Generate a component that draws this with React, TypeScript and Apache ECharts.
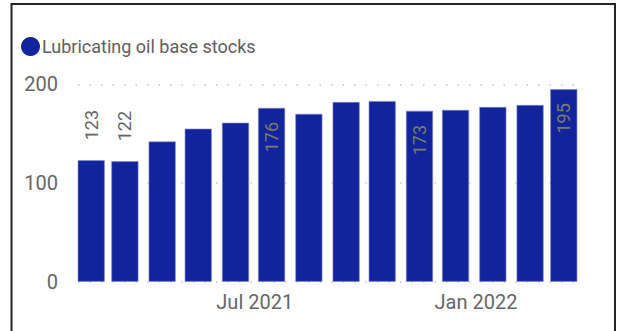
import React, { useEffect, useRef } from "react";
import * as echarts from "echarts";

const seriesName = "Lubricating oil base stocks";
const months = [
  "2021-02", "2021-03", "2021-04", "2021-05", "2021-06", "2021-07", "2021-08",
  "2021-09", "2021-10", "2021-11", "2021-12", "2022-01", "2022-02", "2022-03",
];
const values = [123, 122, 142, 155, 161, 176, 170, 182, 183, 173, 174, 177, 179, 195];
// "out" = label above bar, "in" = label inside bar top, "" = none
const labelModes = ["out", "out", "", "", "", "in", "", "", "", "in", "", "", "", "in"];
const xTickMonths = ["2021-07", "2022-01"];
const xTickLabels = ["Jul 2021", "Jan 2022"];
const yTicks = [0, 100, 200];

const FONT = "Roboto, 'Open Sans', sans-serif";
const DAY = 86400000;

function midMonth(s: string) {
  const [y, m] = s.split("-").map(Number);
  return Date.UTC(y, m - 1, 15);
}
function firstOfMonth(s: string) {
  const [y, m] = s.split("-").map(Number);
  return Date.UTC(y, m - 1, 1);
}

export default function App() {
  const ref = useRef<HTMLDivElement>(null);
  useEffect(() => {
    if (!ref.current) return;
    const chart = echarts.init(ref.current, null, { renderer: "svg" });
    const times = months.map(midMonth);
    const tickTimes = xTickMonths.map(firstOfMonth);
    const data = values.map((v, i) => {
      const mode = labelModes[i];
      const item: any = { value: [times[i], v] };
      if (mode === "out") {
        item.label = {
          show: true,
          position: "top",
          rotate: 90,
          align: "left",
          verticalAlign: "middle",
          distance: 18,
          offset: [2, 0],
          color: "#666666",
          fontSize: 18,
          fontFamily: FONT,
        };
      } else if (mode === "in") {
        item.label = {
          show: true,
          position: "insideTop",
          rotate: 90,
          align: "right",
          verticalAlign: "middle",
          distance: 16,
          offset: [2, 0],
          color: "#7d7c66",
          fontSize: 18,
          fontFamily: FONT,
        };
      }
      return item;
    });
    chart.setOption({
      animation: false,
      backgroundColor: "#ffffff",
      graphic: [
        {
          type: "rect",
          shape: { x: 11.5, y: 4, width: 603.5, height: 340 },
          style: { fill: "none", stroke: "#252423", lineWidth: 2 },
          silent: true,
        },
      ],
      legend: {
        show: true,
        left: 16,
        top: 32,
        icon: "circle",
        itemWidth: 19,
        itemHeight: 19,
        itemGap: 2,
        itemStyle: { borderWidth: 0, color: "#12239e" },
        textStyle: { color: "#605e5c", fontSize: 18, fontFamily: FONT, padding: [0, 0, 0, -3] },
        data: [seriesName],
      },
      grid: { left: 78, right: 41, top: 84.3, bottom: 49.3, containLabel: false },
      xAxis: {
        type: "value",
        min: times[0] - 11 * DAY,
        max: times[times.length - 1] + 11 * DAY,
        axisLine: { show: false },
        axisTick: { show: false },
        splitLine: { show: false },
        axisLabel: {
          customValues: tickTimes,
          formatter: (v: number) => {
            const idx = tickTimes.indexOf(v);
            return idx >= 0 ? xTickLabels[idx] : "";
          },
          color: "#666666",
          fontSize: 20,
          fontFamily: FONT,
          margin: 10,
          showMinLabel: true,
          showMaxLabel: true,
        },
      },
      yAxis: {
        type: "value",
        min: yTicks[0],
        max: yTicks[yTicks.length - 1],
        interval: yTicks[1] - yTicks[0],
        axisLine: { show: false },
        axisTick: { show: false },
        axisLabel: {
          color: "#666666",
          fontSize: 20,
          fontFamily: FONT,
          margin: 20,
        },
        splitLine: {
          show: true,
          lineStyle: { color: "#c8c8c8", width: 1.5, type: [1.5, 10] },
        },
      },
      series: [
        {
          name: seriesName,
          type: "bar",
          barWidth: 27,
          itemStyle: { color: "#12239e", borderColor: "#8088c8", borderWidth: 0.6 },
          data,
        },
      ],
    });
    return () => chart.dispose();
  }, []);
  return (
    <div
      ref={ref}
      style={{ position: "absolute", left: 0, top: 0, width: 618, height: 331 }}
    />
  );
}
